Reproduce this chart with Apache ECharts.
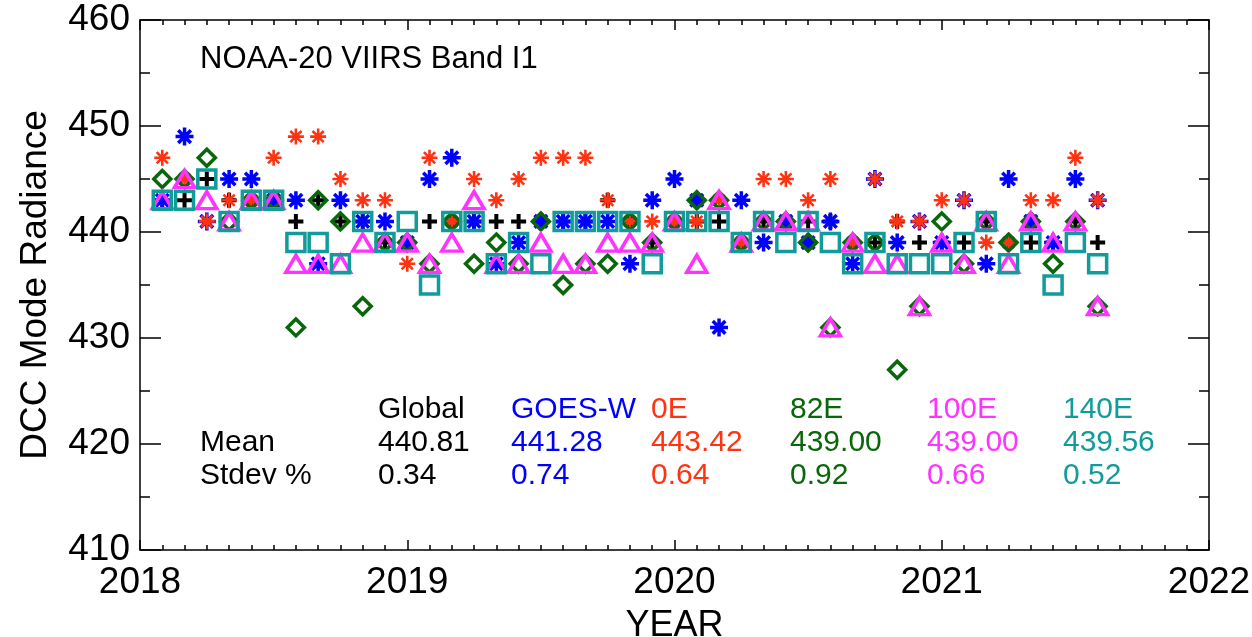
<!DOCTYPE html>
<html>
<head>
<meta charset="utf-8">
<script src="https://cdn.jsdelivr.net/npm/echarts@6/dist/echarts.min.js"></script>
<style>
html, body { margin: 0; padding: 0; background: #fff; }
#main { width: 1252px; height: 637px; }
</style>
</head>
<body>
<div id="main"></div>
<script>
// monthly samples, Feb 2018 .. Aug 2021
var months = [
    '2018-02', '2018-03', '2018-04', '2018-05', '2018-06', '2018-07', '2018-08', '2018-09', '2018-10', '2018-11', '2018-12',
    '2019-01', '2019-02', '2019-03', '2019-04', '2019-05', '2019-06', '2019-07', '2019-08', '2019-09', '2019-10', '2019-11', '2019-12',
    '2020-01', '2020-02', '2020-03', '2020-04', '2020-05', '2020-06', '2020-07', '2020-08', '2020-09', '2020-10', '2020-11', '2020-12',
    '2021-01', '2021-02', '2021-03', '2021-04', '2021-05', '2021-06', '2021-07', '2021-08'
];
var globalVals = [443, 443, 445, 443, 443, 443, 441, 443, 441, 441, 439, 439, 441, 441, 441, 441, 441, 441, 441, 441, 443, 441, 439,
    441, 441, 441, 439, 441, 441, 441, 441, 439, 439, 441, 439, 439, 439, 441, 439, 439, 439, 441, 439];
var goesWVals = [443, 449, 441, 445, 445, 443, 443, 437, 443, 441, 441, 439, 445, 447, 441, 437, 439, 441, 441, 441, 441, 437, 443,
    445, 443, 431, 443, 439, 441, 439, 441, 437, 445, 439, 441, 439, 443, 437, 445, 441, 439, 445, 443];
var e0Vals = [447, 445, 441, 443, 443, 447, 449, 449, 445, 443, 443, 437, 447, 441, 445, 443, 445, 447, 447, 447, 443, 441, 441,
    441, 441, 443, 439, 445, 445, 443, 445, 439, 445, 441, 441, 443, 443, 439, 439, 443, 443, 447, 443];
var e82Vals = [445, 445, 447, 441, 443, 443, 431, 443, 441, 433, 439, 439, 437, 441, 437, 439, 437, 441, 435, 437, 437, 441, 439,
    441, 443, 443, 439, 441, 441, 439, 431, 439, 439, 427, 433, 441, 437, 441, 439, 441, 437, 441, 433];
var e100Vals = [443, 445, 443, 441, 443, 443, 437, 437, 437, 439, 439, 439, 437, 439, 443, 437, 437, 439, 437, 437, 439, 439, 439,
    441, 437, 443, 439, 441, 441, 441, 431, 439, 437, 437, 433, 439, 437, 441, 437, 441, 439, 441, 433];
var e140Vals = [443, 443, 445, 441, 443, 443, 439, 439, 437, 441, 439, 441, 435, 441, 441, 437, 439, 437, 441, 441, 441, 441, 437,
    441, 441, 441, 439, 441, 439, 441, 439, 437, 439, 437, 437, 437, 439, 441, 437, 439, 435, 439, 437];

var statNames = ['Global', 'GOES-W', '0E', '82E', '100E', '140E'];
var statMean = ['440.81', '441.28', '443.42', '439.00', '439.00', '439.56'];
var statStdev = ['0.34', '0.74', '0.64', '0.92', '0.66', '0.52'];
var statColors = ['#000000', '#0000ff', '#ff3311', '#0a660a', '#ff33ff', '#119b9b'];
var statLeft = [378, 511, 651, 790, 927, 1063];

var FONT = 'Liberation Sans, Arial, sans-serif';

function toYear(s) {
    var p = s.split('-');
    return +p[0] + (+p[1] - 1) / 12;
}
function pairs(vals) {
    return months.map(function (m, i) {
        return [toYear(m), vals[i]];
    });
}

var PLUS = 'path://M5,0L5,10M0,5L10,5';
var STAR = 'path://M5,0L5,10M0,5L10,5M1.5,1.5L8.5,8.5M8.5,1.5L1.5,8.5';

function markSeries(name, vals, symbol, size, color, width) {
    return {
        name: name,
        type: 'scatter',
        silent: true,
        symbol: symbol,
        symbolSize: size,
        itemStyle: {
            color: 'rgba(0,0,0,0)',
            borderColor: color,
            borderWidth: width,
            opacity: 1
        },
        data: pairs(vals)
    };
}

var axisCommon = {
    type: 'value',
    axisLine: { lineStyle: { color: '#000', width: 1.5 } },
    splitLine: { show: false }
};
var tickStyle = { color: '#000', width: 1.5 };

var graphics = [{
    type: 'text', left: 200, top: 44,
    style: { text: 'NOAA-20 VIIRS Band I1', fontSize: 31, fontFamily: FONT, fill: '#000' }
}, {
    type: 'text', left: 200, top: 428,
    style: { text: 'Mean', fontSize: 30, fontFamily: FONT, fill: '#000' }
}, {
    type: 'text', left: 200, top: 461,
    style: { text: 'Stdev %', fontSize: 30, fontFamily: FONT, fill: '#000' }
}];
for (var i = 0; i < statNames.length; i++) {
    graphics.push({ type: 'text', left: statLeft[i], top: 395,
        style: { text: statNames[i], fontSize: 30, fontFamily: FONT, fill: statColors[i] } });
    graphics.push({ type: 'text', left: statLeft[i], top: 428,
        style: { text: statMean[i], fontSize: 30, fontFamily: FONT, fill: statColors[i] } });
    graphics.push({ type: 'text', left: statLeft[i], top: 461,
        style: { text: statStdev[i], fontSize: 30, fontFamily: FONT, fill: statColors[i] } });
}

var chart = echarts.init(document.getElementById('main'));
var option = {
    animation: false,
    backgroundColor: '#fff',
    grid: { left: 140, top: 20, width: 1069, height: 530, outerBoundsMode: 'none' },
    xAxis: [
        Object.assign({}, axisCommon, {
            position: 'bottom', min: 2018, max: 2022, interval: 1,
            axisTick: { inside: true, length: 10, lineStyle: tickStyle },
            minorTick: { show: true, splitNumber: 12, length: 5, lineStyle: tickStyle },
            axisLabel: {
                color: '#000', fontSize: 37, fontFamily: FONT, margin: 14,
                formatter: function (v) { return String(v); }
            },
            name: 'YEAR', nameLocation: 'middle', nameGap: 58,
            nameTextStyle: { color: '#000', fontSize: 36, fontFamily: FONT }
        }),
        Object.assign({}, axisCommon, {
            position: 'top', min: 2018, max: 2022, interval: 1,
            axisTick: { inside: true, length: 10, lineStyle: tickStyle },
            minorTick: { show: true, splitNumber: 12, length: 5, lineStyle: tickStyle },
            axisLabel: { show: false }
        })
    ],
    yAxis: [
        Object.assign({}, axisCommon, {
            position: 'left', min: 410, max: 460, interval: 10,
            axisTick: { inside: true, length: 21, lineStyle: tickStyle },
            minorTick: { show: true, splitNumber: 2, length: 10, lineStyle: tickStyle },
            axisLabel: { color: '#000', fontSize: 37, fontFamily: FONT, margin: 10 },
            name: 'DCC Mode Radiance', nameLocation: 'middle', nameGap: 86,
            nameTextStyle: { color: '#000', fontSize: 37, fontFamily: FONT }
        }),
        Object.assign({}, axisCommon, {
            position: 'right', min: 410, max: 460, interval: 10,
            axisTick: { inside: true, length: 21, lineStyle: tickStyle },
            minorTick: { show: true, splitNumber: 2, length: 10, lineStyle: tickStyle },
            axisLabel: { show: false }
        })
    ],
    graphic: graphics,
    series: [
        markSeries('Global', globalVals, PLUS, 15, '#000000', 4),
        markSeries('GOES-W', goesWVals, STAR, 18, '#0000ff', 3.5),
        markSeries('0E', e0Vals, STAR, 16, '#ff3311', 2.6),
        markSeries('82E', e82Vals, 'diamond', 17, '#0a660a', 3.5),
        markSeries('100E', e100Vals, 'triangle', [20, 17], '#ff33ff', 3.5),
        markSeries('140E', e140Vals, 'rect', 18, '#119b9b', 3.5)
    ]
};
chart.setOption(option);
</script>
</body>
</html>
